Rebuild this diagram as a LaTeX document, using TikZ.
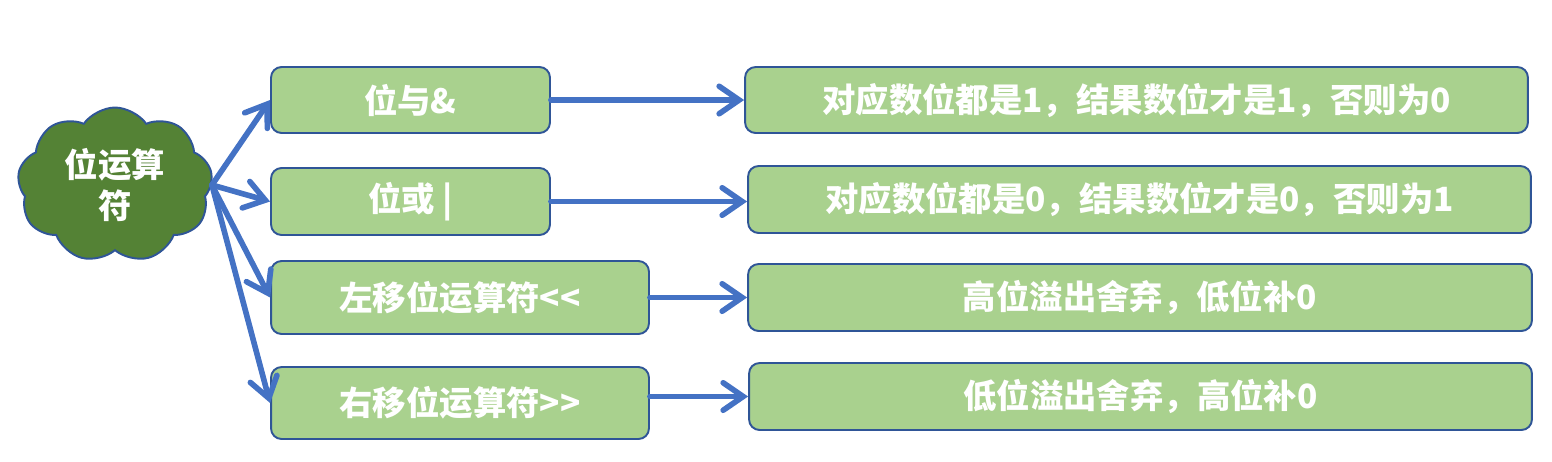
\documentclass[tikz,border=0pt]{standalone}
\usepackage{fontspec}
\newfontfamily\cjk{Noto Sans CJK SC}
\usepackage{xcolor}
\definecolor{leaf}{HTML}{A9D18E}
\definecolor{moss}{HTML}{548235}
\definecolor{navy}{HTML}{2F5597}
\definecolor{sky}{HTML}{4472C4}
\usetikzlibrary{arrows.meta, shapes.symbols}

\tikzset{
  opbox/.style={draw=navy, line width=1.1pt, fill=leaf, rounded corners=6pt,
    inner sep=0pt, text=white, font=\cjk\bfseries\fontsize{19}{23}\selectfont},
  link/.style={draw=sky, line width=3.2pt, line cap=round,
    -{Straight Barb[length=0.4cm, width=0.55cm, line cap=round]}},
}

\begin{document}
\begin{tikzpicture}[x=0.02cm, y=-0.02cm]
  \useasboundingbox (0,0) rectangle (1552,461);

  % centre
  \node[cloud, cloud puffs=9, cloud puff arc=110, aspect=1.3, draw=navy, line width=1.1pt, fill=moss,
    minimum width=3.9cm, minimum height=3.1cm, inner sep=0pt, align=center,
    text=white, font=\cjk\bfseries\fontsize{19}{23}\selectfont]
    (ops) at (115,185) {位运算\\符};

  % operators
  \node[opbox, minimum width=5.58cm, minimum height=1.32cm] (andop) at (410.5,100) {位与\&};
  \node[opbox, minimum width=5.58cm, minimum height=1.34cm] (orop) at (410.5,201.5) {位或 |};
  \node[opbox, minimum width=7.56cm, minimum height=1.46cm] (lshift) at (460,297.5) {左移位运算符<<};
  \node[opbox, minimum width=7.56cm, minimum height=1.44cm] (rshift) at (460,403) {右移位运算符>>};

  % meanings
  \node[opbox, minimum width=15.66cm, minimum height=1.32cm] (anddesc) at (1136.5,100) {对应数位都是1，结果数位才是1，否则为0};
  \node[opbox, minimum width=15.66cm, minimum height=1.34cm] (ordesc) at (1139.5,199.5) {对应数位都是0，结果数位才是0，否则为1};
  \node[opbox, minimum width=15.68cm, minimum height=1.34cm] (ldesc) at (1140,297.5) {高位溢出舍弃，低位补0};
  \node[opbox, minimum width=15.66cm, minimum height=1.34cm] (rdesc) at (1140.5,396.5) {低位溢出舍弃，高位补0};

  % arrows
  \draw[link] (ops.east) -- (andop.west);
  \draw[link] (ops.east) -- (orop.west);
  \draw[link] (ops.east) -- (lshift.west);
  \draw[link] (ops.east) -- (rshift.west);
  \draw[link] (andop.east) -- (anddesc.west);
  \draw[link] (orop.east) -- (orop.east -| ordesc.west);
  \draw[link] (lshift.east) -- (ldesc.west);
  \draw[link] (rshift.east |- rdesc.west) -- (rdesc.west);
\end{tikzpicture}
\end{document}
